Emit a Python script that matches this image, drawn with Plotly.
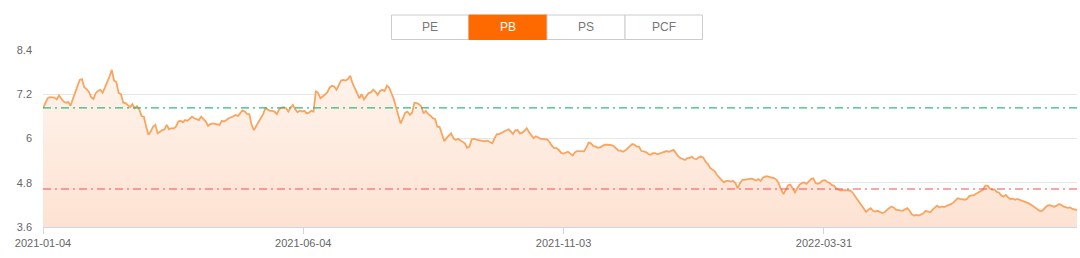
import plotly.graph_objects as go

# ---------------- data ----------------
tabs = ["PE", "PB", "PS", "PCF"]
active_tab = "PB"
x_tick_labels = ["2021-01-04", "2021-06-04", "2021-11-03", "2022-03-31"]
y_tick_values = [3.6, 4.8, 6, 7.2, 8.4]
y_tick_labels = ["3.6", "4.8", "6", "7.2", "8.4"]
upper_level = 6.83   # green dash-dot reference line
lower_level = 4.63   # red dash-dot reference line

pb_part1 = [6.82, 6.97, 7.09, 7.12, 7.12, 7.11, 7.06, 7.17, 7.08, 7.00,
            6.97, 6.99, 6.89, 7.06, 7.23, 7.41, 7.59, 7.61, 7.39, 7.34,
            7.27, 7.12, 7.07, 7.23, 7.29, 7.32, 7.24, 7.38, 7.52, 7.68,
            7.86, 7.57, 7.53, 7.23, 7.20, 6.97, 6.96, 6.91, 6.85, 6.93,
            6.82, 6.88, 6.79, 6.61, 6.59, 6.32, 6.10, 6.19, 6.32, 6.37,
            6.14, 6.18, 6.23, 6.25, 6.37, 6.25, 6.28, 6.27, 6.32, 6.46,
            6.48, 6.44, 6.50, 6.48, 6.55, 6.59, 6.55, 6.52, 6.50, 6.59,
            6.52, 6.46, 6.34, 6.39, 6.41, 6.40, 6.37, 6.37, 6.48, 6.46,
            6.50, 6.55, 6.57, 6.61, 6.64, 6.61, 6.68, 6.76, 6.73, 6.67,
            6.66, 6.37]
pb_part2 = [6.23, 6.34, 6.46, 6.55, 6.66, 6.82, 6.79, 6.75, 6.75, 6.73,
            6.66, 6.79, 6.84, 6.85, 6.82, 6.73, 6.84, 6.91, 6.79, 6.71,
            6.76, 6.73, 6.75, 6.68, 6.70, 6.75, 6.73, 7.29, 7.23, 7.09,
            7.14, 7.20, 7.25, 7.38, 7.43, 7.41, 7.32, 7.45, 7.57, 7.59,
            7.57, 7.61, 7.70, 7.50, 7.34, 7.23, 7.09, 7.20, 7.06, 7.16,
            7.23, 7.25, 7.32, 7.27, 7.18, 7.29, 7.32, 7.29, 7.43, 7.38,
            7.23, 7.07, 6.84, 6.64, 6.41, 6.55, 6.70, 6.73, 6.64, 6.70,
            6.97, 6.96, 6.93, 6.87, 6.68, 6.75, 6.66, 6.62, 6.55, 6.53,
            6.32, 6.31, 6.14, 5.93, 6.01, 6.08, 6.14, 6.01, 5.96]
pb_part3 = [5.99, 5.95, 5.89, 5.87, 5.75, 5.78, 5.98, 5.99, 5.97, 5.95,
            5.94, 5.93, 5.93, 5.94, 5.90, 5.87, 6.01, 6.12, 6.12, 6.15,
            6.19, 6.23, 6.25, 6.19, 6.12, 6.22, 6.23, 6.14, 6.16, 6.21,
            6.28, 6.17, 6.10, 6.01, 6.06, 6.02, 5.99, 5.99, 5.99, 5.97,
            5.90, 5.80, 5.74, 5.74, 5.69, 5.61, 5.59, 5.61, 5.64, 5.59,
            5.54, 5.62, 5.66, 5.66, 5.66, 5.65, 5.76, 5.89, 5.87, 5.80,
            5.78, 5.75, 5.76, 5.79, 5.83, 5.83, 5.83, 5.82, 5.79, 5.74,
            5.67, 5.67, 5.64, 5.68, 5.74, 5.79, 5.85, 5.83, 5.78, 5.78,
            5.66, 5.65, 5.63, 5.58, 5.56, 5.60, 5.60, 5.57, 5.59]
pb_part4 = [5.61, 5.64, 5.66, 5.64, 5.66, 5.69, 5.61, 5.52, 5.47, 5.44,
            5.42, 5.47, 5.47, 5.51, 5.45, 5.44, 5.49, 5.51, 5.48, 5.37,
            5.31, 5.20, 5.16, 5.11, 5.01, 4.93, 4.87, 4.81, 4.85, 4.85,
            4.83, 4.85, 4.79, 4.65, 4.79, 4.87, 4.88, 4.88, 4.88, 4.91,
            4.89, 4.86, 4.90, 4.85, 4.94, 4.97, 4.97, 4.96, 4.94, 4.92,
            4.88, 4.77, 4.61, 4.49, 4.61, 4.73, 4.75, 4.63, 4.54, 4.65,
            4.75, 4.79, 4.81, 4.77, 4.84, 4.90, 4.92, 4.79, 4.77, 4.80,
            4.86, 4.87, 4.82, 4.80, 4.74, 4.72, 4.64, 4.62, 4.59, 4.60,
            4.59, 4.59, 4.59, 4.54, 4.45, 4.37, 4.26, 4.18, 4.08, 4.01]
pb_part5 = [4.07, 4.11, 4.04, 4.02, 4.04, 4.00, 3.98, 4.00, 4.06, 4.11,
            4.15, 4.13, 4.07, 4.06, 4.04, 4.04, 4.08, 4.11, 4.04, 3.94,
            3.91, 3.93, 3.91, 3.93, 3.97, 4.04, 4.02, 4.00, 4.07, 4.14,
            4.18, 4.13, 4.16, 4.14, 4.16, 4.18, 4.22, 4.26, 4.31, 4.38,
            4.36, 4.34, 4.34, 4.36, 4.44, 4.46, 4.46, 4.50, 4.54, 4.56,
            4.61, 4.72, 4.72, 4.64, 4.61, 4.62, 4.55, 4.53, 4.45, 4.43,
            4.47, 4.40, 4.36, 4.37, 4.34, 4.36, 4.34, 4.32, 4.30, 4.27,
            4.24, 4.20, 4.16, 4.12, 4.07, 4.03, 4.05, 4.13, 4.18, 4.19,
            4.17, 4.15, 4.17, 4.22, 4.21, 4.16, 4.14, 4.12, 4.13, 4.09,
            4.08, 4.06]

pb_values = pb_part1 + pb_part2 + pb_part3 + pb_part4 + pb_part5
n = len(pb_values)
x_index = list(range(n))

# ---------------- layout helpers ----------------
W, H = 1080, 258
ML, MR, MT, MB = 43, 3, 50, 31
PW, PH = W - ML - MR, H - MT - MB


def to_px_x(px):
    return (px - ML) / PW


def to_px_y(py):
    return (H - MB - py) / PH


tick_fracs = [0.0, 0.2517, 0.5034, 0.7553]
x_tickvals = [f * (n - 1) for f in tick_fracs]

LINE_COLOR = "#f8a560"

fig = go.Figure()
fig.add_trace(go.Scatter(
    x=x_index, y=pb_values, mode="lines",
    line=dict(color=LINE_COLOR, width=1.8),
    fill="tozeroy",
    fillgradient=dict(type="vertical",
                      colorscale=[[0, "rgb(253,226,210)"], [1, "rgb(255,246,240)"]],
                      start=3.6, stop=8.4),
    hoverinfo="skip", showlegend=False,
))

shapes = [
    dict(type="line", xref="paper", yref="y", x0=0, x1=1,
         y0=upper_level, y1=upper_level,
         line=dict(color="#2fb97f", width=1.2, dash="8px,4px,2px,4px"), layer="above"),
    dict(type="line", xref="paper", yref="y", x0=0, x1=1,
         y0=lower_level, y1=lower_level,
         line=dict(color="#ef5050", width=1.2, dash="8px,4px,2px,4px"), layer="above"),
]

annotations = []
edges = [391.5, 469, 547, 625, 702.5]
btn_top, btn_bot = 15, 39.5
for i, name in enumerate(tabs):
    active = (name == active_tab)
    shapes.append(dict(
        type="rect", xref="paper", yref="paper",
        x0=to_px_x(edges[i]), x1=to_px_x(edges[i + 1]),
        y0=to_px_y(btn_bot), y1=to_px_y(btn_top),
        fillcolor="#ff6a00" if active else "#ffffff",
        line=dict(color="#ff6a00" if active else "#cccccc", width=1),
        layer="above",
    ))
    annotations.append(dict(
        xref="paper", yref="paper",
        x=to_px_x((edges[i] + edges[i + 1]) / 2),
        y=to_px_y((btn_top + btn_bot) / 2),
        text=name, showarrow=False, xanchor="center", yanchor="middle",
        font=dict(family="Liberation Sans, Arial, sans-serif", size=12,
                  color="#ffffff" if active else "#777777"),
    ))

fig.update_layout(
    width=W, height=H,
    margin=dict(l=ML, r=MR, t=MT, b=MB),
    paper_bgcolor="white", plot_bgcolor="white",
    font=dict(family="Liberation Sans, Arial, sans-serif", size=11, color="#666666"),
    xaxis=dict(range=[0, n - 1], tickmode="array", tickvals=x_tickvals,
               ticktext=x_tick_labels, showgrid=False, zeroline=False,
               showline=True, linecolor="#ccd6eb", linewidth=1,
               ticks="outside", ticklen=6, tickcolor="#ccd6eb",
               tickfont=dict(size=11, color="#666666")),
    yaxis=dict(range=[3.6, 8.4], tickmode="array", tickvals=y_tick_values,
               ticktext=y_tick_labels, showgrid=True, gridcolor="#e6e6e6",
               gridwidth=1, zeroline=False, showline=False, ticks="",
               ticklabelstandoff=10,
               tickfont=dict(size=11, color="#666666")),
    shapes=shapes,
    annotations=annotations,
    showlegend=False,
)

fig.write_html("out.html")
